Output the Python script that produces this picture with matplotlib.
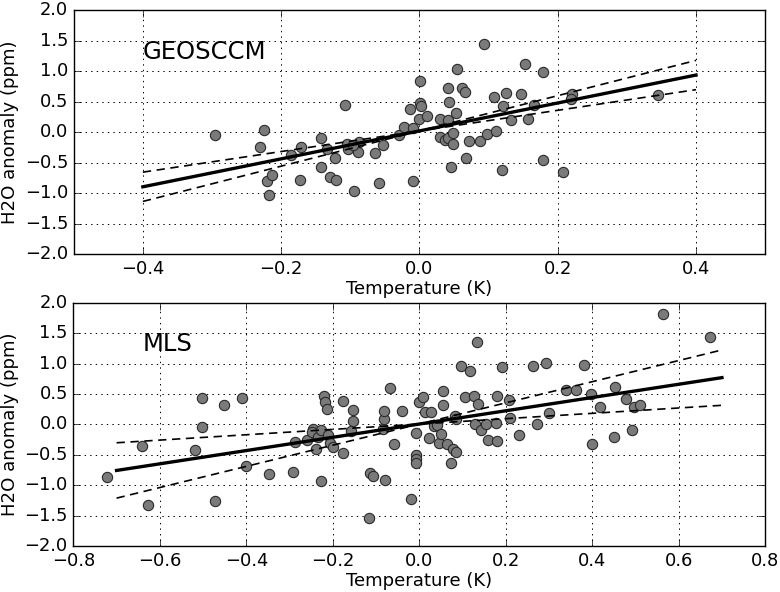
import matplotlib
matplotlib.use("Agg")
import matplotlib.pyplot as plt
import numpy as np

plt.style.use('classic')
plt.rcParams['font.family'] = ['DejaVu Sans']
plt.rcParams['figure.facecolor'] = 'white'
plt.rcParams['savefig.facecolor'] = 'white'

# GEOSCCM scatter (temperature anomaly K, H2O anomaly ppm)
geos_t = [-0.295, -0.225, -0.230, -0.220, -0.213, -0.217, -0.186, -0.172, -0.173,
          -0.142, -0.142, -0.134, -0.130, -0.122, -0.121, -0.107, -0.105, -0.103,
          -0.095, -0.089, -0.087, -0.096, -0.064, -0.059, -0.053, -0.030, -0.023,
          -0.009, -0.013, -0.010, 0.001, 0.001, 0.002, 0.000, 0.011, 0.041, 0.043,
          0.030, 0.041, 0.053, 0.055, 0.062, 0.066, 0.030, 0.037, 0.042, 0.049,
          0.048, 0.067, 0.045, 0.072, 0.087, 0.097, 0.111, 0.094, 0.108, 0.121,
          0.125, 0.133, 0.120, 0.147, 0.152, 0.157, 0.165, 0.178, 0.178, 0.207,
          0.220, 0.219, 0.345]
geos_h2o = [-0.05, 0.04, -0.24, -0.81, -0.70, -1.04, -0.38, -0.24, -0.79,
            -0.10, -0.57, -0.28, -0.73, -0.42, -0.79, 0.45, -0.19, -0.28,
            -0.96, -0.32, -0.16, -0.21, -0.34, -0.84, -0.22, -0.05, 0.09,
            0.06, 0.37, -0.81, 0.84, 0.47, 0.43, 0.21, 0.26, 0.72, 0.49,
            0.22, 0.19, 0.31, 1.04, 0.72, 0.66, -0.08, -0.13, -0.10, -0.02,
            -0.19, -0.43, -0.58, -0.14, -0.14, -0.03, 0.01, 1.44, 0.58, 0.43,
            0.64, 0.20, -0.63, 0.62, 1.11, 0.21, 0.45, 0.98, -0.46, -0.66,
            0.62, 0.54, 0.60]

# MLS scatter
mls_t = [-0.722, -0.641, -0.627, -0.518, -0.502, -0.502, -0.472, -0.451, -0.410,
         -0.400, -0.347, -0.291, -0.287, -0.259, -0.246, -0.247, -0.239, -0.227,
         -0.233, -0.227, -0.221, -0.218, -0.214, -0.210, -0.206, -0.200, -0.177,
         -0.176, -0.157, -0.153, -0.153, -0.113, -0.108, -0.116, -0.083, -0.082,
         -0.082, -0.079, -0.068, -0.058, -0.041, -0.018, -0.008, -0.008, -0.008,
         -0.007, 0.000, 0.009, 0.013, 0.028, 0.023, 0.034, 0.042, 0.046, 0.051,
         0.054, 0.055, 0.064, 0.074, 0.077, 0.086, 0.082, 0.084, 0.097, 0.105,
         0.118, 0.126, 0.130, 0.134, 0.136, 0.142, 0.154, 0.160, 0.178, 0.180,
         0.180, 0.192, 0.207, 0.211, 0.230, 0.263, 0.273, 0.293, 0.300, 0.339,
         0.363, 0.380, 0.397, 0.400, 0.418, 0.450, 0.453, 0.477, 0.492, 0.497,
         0.510, 0.563, 0.673]
mls_h2o = [-0.87, -0.36, -1.32, -0.42, 0.43, -0.05, -1.26, 0.31, 0.43,
           -0.69, -0.81, -0.79, -0.29, -0.26, -0.07, -0.12, -0.41, -0.93,
           -0.20, -0.09, 0.46, 0.37, 0.25, -0.18, -0.31, -0.38, 0.39,
           -0.47, -0.11, 0.24, 0.05, -0.80, -0.85, -1.54, -0.08, 0.09,
           0.22, -0.91, 0.60, -0.32, 0.22, -1.22, -0.14, -0.50, -0.57,
           -0.63, 0.37, 0.45, 0.21, 0.21, -0.22, -0.03, -0.01, -0.30, -0.16,
           0.55, 0.32, -0.32, -0.63, -0.41, -0.45, 0.14, 0.08, 0.96, 0.45,
           0.87, 0.47, 0.00, 1.36, 0.33, -0.09, 0.00, -0.26, 0.02, -0.27,
           0.47, 0.94, 0.40, 0.11, -0.17, 0.96, 0.00, 1.01, 0.19, 0.56,
           0.56, 0.98, 0.50, -0.33, 0.29, -0.20, 0.61, 0.42, -0.10, 0.28,
           0.32, 1.82, 1.44]

# regression fits: slope, intercept, slope uncertainty, x-range
geos_fit = dict(slope=2.29, intercept=0.018, err=0.60, xmin=-0.4, xmax=0.4)
mls_fit = dict(slope=1.09, intercept=0.005, err=0.65, xmin=-0.7, xmax=0.7)

panels = [
    ("GEOSCCM", geos_t, geos_h2o, geos_fit, (-0.5, 0.5), np.arange(-0.4, 0.41, 0.2)),
    ("MLS", mls_t, mls_h2o, mls_fit, (-0.8, 0.8), np.arange(-0.8, 0.81, 0.2)),
]


def fmt(v, pos):
    s = '%.1f' % v
    if s == '-0.0':
        s = '0.0'
    return s.replace('-', '\u2212')


fig = plt.figure(figsize=(7.8, 5.92), dpi=100)
rects = [[0.0945, 0.5709, 0.8865, 0.4122], [0.094, 0.0777, 0.887, 0.411]]

for rect, (name, t, h, fit, xl, xt) in zip(rects, panels):
    ax = fig.add_axes(rect)
    ax.set_facecolor('white')
    ax.scatter(t, h, s=55, c='#7a7a7a', edgecolors='#2a2a2a', linewidths=0.8, zorder=3)
    xx = np.array([fit['xmin'], fit['xmax']])
    ax.plot(xx, fit['intercept'] + fit['slope'] * xx, color='black', lw=2.4, zorder=4)
    for sgn in (1, -1):
        ax.plot(xx, fit['intercept'] + (fit['slope'] + sgn * fit['err']) * xx,
                color='black', lw=1.2, dashes=(6, 4), zorder=4)
    ax.set_xlim(*xl)
    ax.set_ylim(-2.0, 2.0)
    ax.set_xticks(xt)
    ax.set_yticks(np.arange(-2.0, 2.01, 0.5))
    ax.xaxis.set_major_formatter(matplotlib.ticker.FuncFormatter(fmt))
    ax.yaxis.set_major_formatter(matplotlib.ticker.FuncFormatter(fmt))
    ax.grid(True, color='black', linestyle=':', linewidth=0.7)
    ax.tick_params(labelsize=12.9, direction='in', length=5, top=True, right=True)
    ax.set_xlabel('Temperature (K)', fontsize=13.1, labelpad=2)
    ax.set_ylabel('H2O anomaly (ppm)', fontsize=13.1, labelpad=4)
    ax.text(0.1, 0.80, name, transform=ax.transAxes, fontsize=17.5,
            ha='left', va='baseline')
    for sp in ax.spines.values():
        sp.set_linewidth(1.0)

fig.savefig('out.png', dpi=100)
